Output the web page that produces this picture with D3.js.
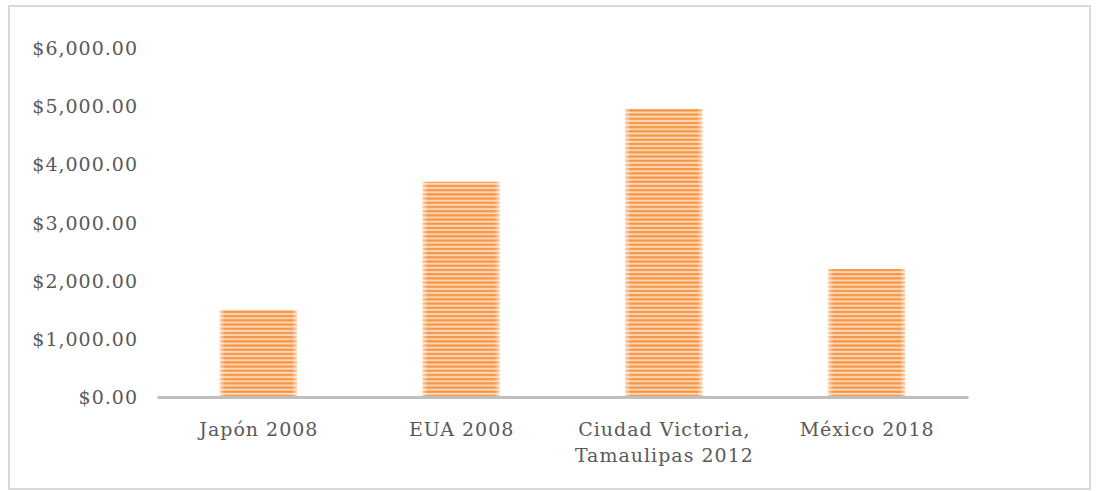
<!DOCTYPE html>
<html>
<head>
<meta charset="utf-8">
<script src="https://cdn.jsdelivr.net/npm/d3@7/dist/d3.min.js"></script>
<style>
  html, body { margin: 0; padding: 0; background: #fff; }
  svg { display: block; }
  .tick text { font-family: "DejaVu Serif", serif; letter-spacing: 1px; }
</style>
</head>
<body>
<svg id="chart" width="1098" height="491"></svg>
<script>
// Chart data
const categories = ["Japón 2008", "EUA 2008", "Ciudad Victoria, Tamaulipas 2012", "México 2018"];
const categoryLines = [["Japón 2008"], ["EUA 2008"], ["Ciudad Victoria,", "Tamaulipas 2012"], ["México 2018"]];
const values = [1500, 3700, 4950, 2200];
const yTicks = [0, 1000, 2000, 3000, 4000, 5000, 6000];

const W = 1098, H = 491;
const margin = { left: 157, right: 130, top: 48, bottom: 94 };

const svg = d3.select("#chart");

// Outer frame
svg.append("rect")
  .attr("x", 9).attr("y", 6)
  .attr("width", 1081).attr("height", 483)
  .attr("fill", "#fff")
  .attr("stroke", "#d9d9d9")
  .attr("stroke-width", 2);

const x = d3.scaleBand()
  .domain(categories)
  .range([margin.left, W - margin.right])
  .paddingInner(0.62)
  .paddingOuter(0.31);

const y = d3.scaleLinear()
  .domain([0, 6000])
  .range([H - margin.bottom, margin.top]);

// Striped fill for the bars
const defs = svg.append("defs");
const pat = defs.append("pattern")
  .attr("id", "stripes")
  .attr("patternUnits", "userSpaceOnUse")
  .attr("width", 8).attr("height", 4.2);
pat.append("rect").attr("width", 8).attr("height", 4.2).attr("fill", "#fdd9bb");
pat.append("rect").attr("y", 0).attr("width", 8).attr("height", 2.3).attr("fill", "#f79646");

// Soft light edges on the bars
const gx = defs.append("linearGradient").attr("id", "edgeX").attr("x1", 0).attr("x2", 1).attr("y1", 0).attr("y2", 0);
[[0, 0.55], [0.07, 0.0], [0.93, 0.0], [1, 0.55]].forEach(([o, a]) =>
  gx.append("stop").attr("offset", o).attr("stop-color", "#fff").attr("stop-opacity", a));

const fmt = d => "$" + d3.format(",.2f")(d);

// Y axis labels
const yAxis = d3.axisLeft(y).tickValues(yTicks).tickFormat(fmt).tickSize(0).tickPadding(19);
const gy = svg.append("g").attr("transform", `translate(${margin.left},0)`).call(yAxis);
gy.select(".domain").remove();
gy.selectAll(".tick text")
  .attr("fill", "#595959")
  .attr("font-size", 19)
  .attr("dy", "0.35em");

// Bars
const bars = svg.append("g");
bars.selectAll("rect.bar")
  .data(values)
  .join("rect")
  .attr("class", "bar")
  .attr("x", (d, i) => x(categories[i]))
  .attr("y", d => y(d))
  .attr("width", x.bandwidth())
  .attr("height", d => y(0) - y(d))
  .attr("fill", "url(#stripes)");
bars.selectAll("rect.glow")
  .data(values)
  .join("rect")
  .attr("class", "glow")
  .attr("x", (d, i) => x(categories[i]))
  .attr("y", d => y(d))
  .attr("width", x.bandwidth())
  .attr("height", d => y(0) - y(d))
  .attr("fill", "url(#edgeX)");

// X axis baseline and category labels
const xAxis = d3.axisBottom(x).tickSize(0).tickFormat("");
const gxAxis = svg.append("g").attr("transform", `translate(0,${y(0)})`).call(xAxis);
gxAxis.select(".domain").attr("stroke", "#bfbfbf").attr("stroke-width", 3);

gxAxis.selectAll(".tick").each(function(d, i) {
  const t = d3.select(this).append("text")
    .attr("fill", "#595959")
    .attr("font-size", 19)
    .attr("font-family", "DejaVu Serif, serif")
    .attr("text-anchor", "middle");
  categoryLines[i].forEach((line, k) => {
    t.append("tspan").attr("x", 0.5).attr("y", 39 + k * 26).text(line);
  });
});
</script>
</body>
</html>
